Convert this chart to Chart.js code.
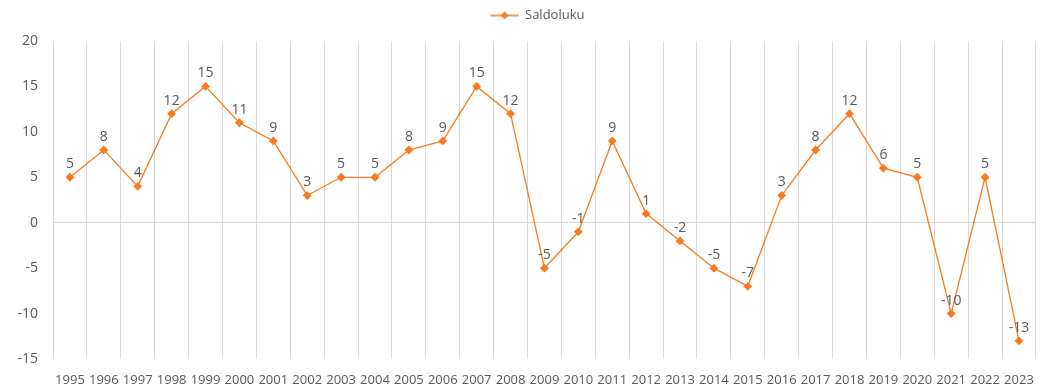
<!DOCTYPE html>
<html>
<head>
<meta charset="utf-8">
<script src="https://cdn.jsdelivr.net/npm/chart.js@4/dist/chart.umd.min.js"></script>
<style>
  html, body { margin: 0; padding: 0; background: #fff; }
  #wrap { width: 1047px; height: 389px; }
</style>
</head>
<body>
<div id="wrap"><canvas id="saldoChart"></canvas></div>
<script>
const years = ['1995','1996','1997','1998','1999','2000','2001','2002','2003','2004',
  '2005','2006','2007','2008','2009','2010','2011','2012','2013','2014',
  '2015','2016','2017','2018','2019','2020','2021','2022','2023'];
const saldo = [5, 8, 4, 12, 15, 11, 9, 3, 5, 5,
  8, 9, 15, 12, -5, -1, 9, 1, -2, -5,
  -7, 3, 8, 12, 6, 5, -10, 5, -13];
const yTicks = [-15, -10, -5, 0, 5, 10, 15, 20];

const LINE = '#fa7a1e';
const TEXT = '#595959';
const GRID = '#d9d9d9';
const FONT = "'Open Sans', 'Liberation Sans', sans-serif";

// legend marker: short line with a diamond in the middle
// (left part left blank so the legend sits a bit right of centre)
const MARK_W = 52;
function legendMarker() {
  const c = document.createElement('canvas');
  c.width = MARK_W; c.height = 10;
  const g = c.getContext('2d');
  const x0 = MARK_W - 28;
  g.strokeStyle = LINE;
  g.lineWidth = 1.5;
  g.beginPath(); g.moveTo(x0, 5); g.lineTo(MARK_W, 5); g.stroke();
  g.fillStyle = LINE;
  g.beginPath();
  g.moveTo(x0 + 14, 1); g.lineTo(x0 + 18, 5); g.lineTo(x0 + 14, 9); g.lineTo(x0 + 10, 5);
  g.closePath(); g.fill();
  return c;
}
const marker = legendMarker();

// value labels above each point
const valueLabels = {
  id: 'valueLabels',
  afterDatasetsDraw(chart) {
    const ctx = chart.ctx;
    const meta = chart.getDatasetMeta(0);
    ctx.save();
    ctx.font = '14px ' + FONT;
    ctx.fillStyle = TEXT;
    ctx.textAlign = 'center';
    ctx.textBaseline = 'bottom';
    meta.data.forEach((pt, i) => {
      ctx.fillText(String(saldo[i]), pt.x, pt.y - 6);
    });
    ctx.restore();
  }
};

// extra room between the legend and the plot
const legendGap = {
  id: 'legendGap',
  beforeInit(chart) {
    const fit = chart.legend.fit;
    chart.legend.fit = function () {
      fit.call(this);
      this.height += 9;
    };
  }
};

new Chart(document.getElementById('saldoChart'), {
  type: 'line',
  data: {
    labels: years,
    datasets: [{
      label: 'Saldoluku',
      data: saldo,
      borderColor: LINE,
      backgroundColor: LINE,
      borderWidth: 1.3,
      pointStyle: 'rectRot',
      pointRadius: 3.5,
      pointHoverRadius: 3.5,
      tension: 0
    }]
  },
  options: {
    responsive: true,
    maintainAspectRatio: false,
    animation: false,
    layout: { padding: { left: 14, right: 10, top: 0, bottom: 0 } },
    plugins: {
      tooltip: { enabled: false },
      legend: {
        position: 'top',
        labels: {
          color: TEXT,
          font: { family: FONT, size: 13 },
          usePointStyle: true,
          pointStyleWidth: MARK_W,
          padding: 9,
          generateLabels() {
            return [{
              text: 'Saldoluku',
              fillStyle: LINE,
              strokeStyle: LINE,
              lineWidth: 0,
              pointStyle: marker,
              fontColor: TEXT,
              datasetIndex: 0
            }];
          }
        }
      }
    },
    scales: {
      x: {
        offset: true,
        grid: { offset: true, color: GRID, drawTicks: false },
        border: { display: false },
        afterFit(scale) { scale.height = 30; },
        ticks: {
          color: TEXT,
          font: { family: FONT, size: 13 },
          maxRotation: 0,
          autoSkip: false,
          padding: 13
        }
      },
      y: {
        min: -15,
        max: 20,
        afterBuildTicks(axis) { axis.ticks = yTicks.map(v => ({ value: v })); },
        afterFit(scale) { scale.width = 39; },
        grid: {
          drawTicks: false,
          color: c => (c.tick && c.tick.value === 0) ? GRID : 'transparent'
        },
        border: { display: false },
        ticks: {
          color: TEXT,
          font: { family: FONT, size: 14 },
          padding: 15
        }
      }
    }
  },
  plugins: [valueLabels, legendGap]
});
</script>
</body>
</html>
